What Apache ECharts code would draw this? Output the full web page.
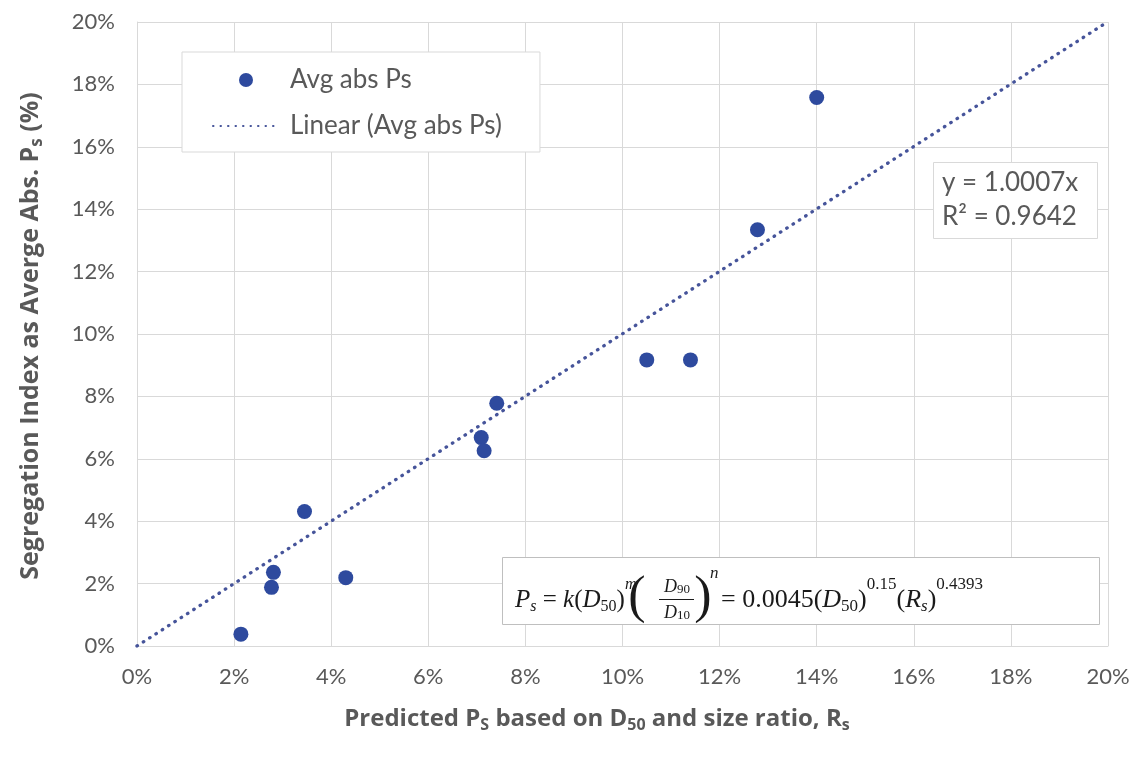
<!DOCTYPE html>
<html>
<head>
<meta charset="utf-8">
<script src="https://cdn.jsdelivr.net/npm/echarts@6/dist/echarts.min.js"></script>
<style>
html,body{margin:0;padding:0;background:#fff;}
#chart{width:1143px;height:762px;}
</style>
</head>
<body>
<div id="chart"></div>
<script>
// Data (percent units)
const predictedPs = [2.14, 2.77, 2.81, 3.45, 4.30, 7.09, 7.15, 7.41, 10.50, 11.40, 12.78, 14.00];
const avgAbsPs    = [0.38, 1.88, 2.36, 4.31, 2.19, 6.68, 6.26, 7.78, 9.17, 9.17, 13.34, 17.58];
const trendX = [0, 20];
const trendY = [0, 20.014];
const axisTicks = [0, 2, 4, 6, 8, 10, 12, 14, 16, 18, 20];
const seriesNames = ['Avg abs Ps', 'Linear (Avg abs Ps)'];
const eqLines = ['y = 1.0007x', 'R² = 0.9642'];
const xTitle = '{b|Predicted P}{s|S}{b| based on D}{s|50}{b| and size ratio, R}{s|s}';
const yTitle = '{b|Segregation Index as Averge Abs. P}{s|s}{b| (%)}';

const GRAY = '#595959';
const GRID = '#d9d9d9';
const BLUE = '#2e4a9e';
const SANS = 'Lato, "Open Sans", sans-serif';
const TITLE_FONT = '"Open Sans", Lato, sans-serif';
const SERIF = '"Liberation Serif", "DejaVu Serif", serif';
const INK = '#1a1a1a';

const chart = echarts.init(document.getElementById('chart'), null, {renderer: 'canvas'});

const axisCommon = {
  type: 'value', min: axisTicks[0], max: axisTicks[axisTicks.length - 1], interval: 2,
  axisLine: {show: true, lineStyle: {color: GRID, width: 1}},
  axisTick: {show: false},
  splitLine: {show: true, lineStyle: {color: GRID, width: 1}},
  axisLabel: {color: GRAY, fontSize: 22, fontFamily: SANS, formatter: v => v + '%'}
};

const titleRich = (fs) => ({
  b: {fontSize: fs, fontWeight: 'bold', fontFamily: TITLE_FONT, fill: GRAY, lineHeight: 32},
  s: {fontSize: Math.round(fs * 0.66), fontWeight: 'bold', fontFamily: TITLE_FONT, fill: GRAY, lineHeight: 16, padding: [12, 0, 0, 0]}
});

const mk = (fs, extra) => Object.assign({fontSize: fs, fontFamily: SERIF, fill: INK}, extra);
const mathRichA = {
  r: mk(25, {lineHeight: 44}),
  i: mk(25, {lineHeight: 44, fontStyle: 'italic'}),
  sub: mk(16, {lineHeight: 16, padding: [14, 0, 0, 0]}),
  subi: mk(16, {lineHeight: 16, padding: [14, 0, 0, 0], fontStyle: 'italic'}),
  sup: mk(16, {lineHeight: 16, padding: [0, 0, 30, 0]}),
  supi: mk(16, {lineHeight: 16, padding: [0, 0, 30, 0], fontStyle: 'italic'})
};
const mathRichB = {
  r: mk(26, {lineHeight: 44}),
  i: mk(26, {lineHeight: 44, fontStyle: 'italic'}),
  sub: mk(17, {lineHeight: 17, padding: [14, 0, 0, 0]}),
  subi: mk(17, {lineHeight: 17, padding: [14, 0, 0, 0], fontStyle: 'italic'}),
  sup: mk(17, {lineHeight: 17, padding: [0, 0, 30, 0]}),
  supi: mk(17, {lineHeight: 17, padding: [0, 0, 30, 0], fontStyle: 'italic'})
};
const fracRich = {
  i: mk(18, {fontStyle: 'italic'}),
  s: mk(13, {padding: [6, 0, 0, 0]})
};

const option = {
  backgroundColor: '#fff',
  animation: false,
  grid: {left: 137, right: 35, top: 22, bottom: 116},
  xAxis: Object.assign({}, axisCommon, {
    axisLabel: Object.assign({}, axisCommon.axisLabel, {margin: 20})
  }),
  yAxis: Object.assign({}, axisCommon, {
    axisLabel: Object.assign({}, axisCommon.axisLabel, {margin: 22})
  }),
  legend: {
    left: 182, top: 52, orient: 'vertical',
    data: [
      {name: seriesNames[0], icon: 'circle'},
      {name: seriesNames[1], itemStyle: {opacity: 0}}
    ],
    itemWidth: 66, itemHeight: 14, itemGap: 20,
    padding: [15, 38, 13, 30],
    backgroundColor: '#fff', borderColor: GRID, borderWidth: 1,
    textStyle: {color: GRAY, fontSize: 26, fontFamily: SANS, padding: [0, 0, 0, 6]}
  },
  series: [
    {
      name: seriesNames[0], type: 'scatter', symbol: 'circle', symbolSize: 15,
      itemStyle: {color: BLUE, opacity: 1},
      data: predictedPs.map((x, i) => [x, avgAbsPs[i]]),
      z: 3
    },
    {
      name: seriesNames[1], type: 'line', symbol: 'none', showSymbol: false,
      itemStyle: {color: '#46549a'},
      lineStyle: {color: '#46549a', width: 3.3, type: [0.5, 7], cap: 'round'},
      data: trendX.map((x, i) => [x, trendY[i]]),
      z: 2
    }
  ],
  graphic: [
    // axis titles
    {type: 'text', x: 597, y: 719, z: 5,
      style: {text: xTitle, rich: titleRich(24), align: 'center', verticalAlign: 'middle'}},
    {type: 'text', x: 31, y: 336, rotation: Math.PI / 2, z: 5,
      style: {text: yTitle, rich: titleRich(25), align: 'center', verticalAlign: 'middle'}},
    // trendline equation box
    {type: 'rect', left: 933, top: 162, shape: {width: 164, height: 76}, style: {fill: '#fff', stroke: GRID, lineWidth: 1}, z: 10},
    {type: 'text', x: 942, y: 183, z: 11, style: {text: eqLines[0], font: '26px ' + SANS, fill: GRAY, verticalAlign: 'middle'}},
    {type: 'text', x: 942, y: 217, z: 11, style: {text: eqLines[1], font: '26px ' + SANS, fill: GRAY, verticalAlign: 'middle'}},
    // formula box
    {type: 'rect', left: 502, top: 557, shape: {width: 597, height: 67}, style: {fill: '#fff', stroke: '#bfbfbf', lineWidth: 1}, z: 10},
    {type: 'text', x: 515, y: 600, z: 11,
      style: {text: '{i|P}{subi|s}{r| = }{i|k}{r|(}{i|D}{sub|50}{r|)}{supi|m}', rich: mathRichA, verticalAlign: 'middle', align: 'left'}},
    {type: 'text', x: 637, y: 598, z: 11,
      style: {text: '(', font: '52px ' + SERIF, fill: INK, verticalAlign: 'middle', align: 'center'}},
    {type: 'text', x: 703, y: 598, z: 11,
      style: {text: ')', font: '52px ' + SERIF, fill: INK, verticalAlign: 'middle', align: 'center'}},
    {type: 'text', x: 677, y: 587, z: 11,
      style: {text: '{i|D}{s|90}', rich: fracRich, verticalAlign: 'middle', align: 'center'}},
    {type: 'line', z: 11, shape: {x1: 659, y1: 599.5, x2: 694, y2: 599.5}, style: {stroke: INK, lineWidth: 1.2}},
    {type: 'text', x: 677, y: 613, z: 11,
      style: {text: '{i|D}{s|10}', rich: fracRich, verticalAlign: 'middle', align: 'center'}},
    {type: 'text', x: 710, y: 574, z: 11,
      style: {text: 'n', font: 'italic 17px ' + SERIF, fill: INK, verticalAlign: 'middle', align: 'left'}},
    {type: 'text', x: 721, y: 600, z: 11,
      style: {text: '{r|= 0.0045(}{i|D}{sub|50}{r|)}{sup|0.15}{r|(}{i|R}{subi|s}{r|)}{sup|0.4393}', rich: mathRichB, verticalAlign: 'middle', align: 'left'}}
  ]
};

chart.setOption(option);
</script>
</body>
</html>
